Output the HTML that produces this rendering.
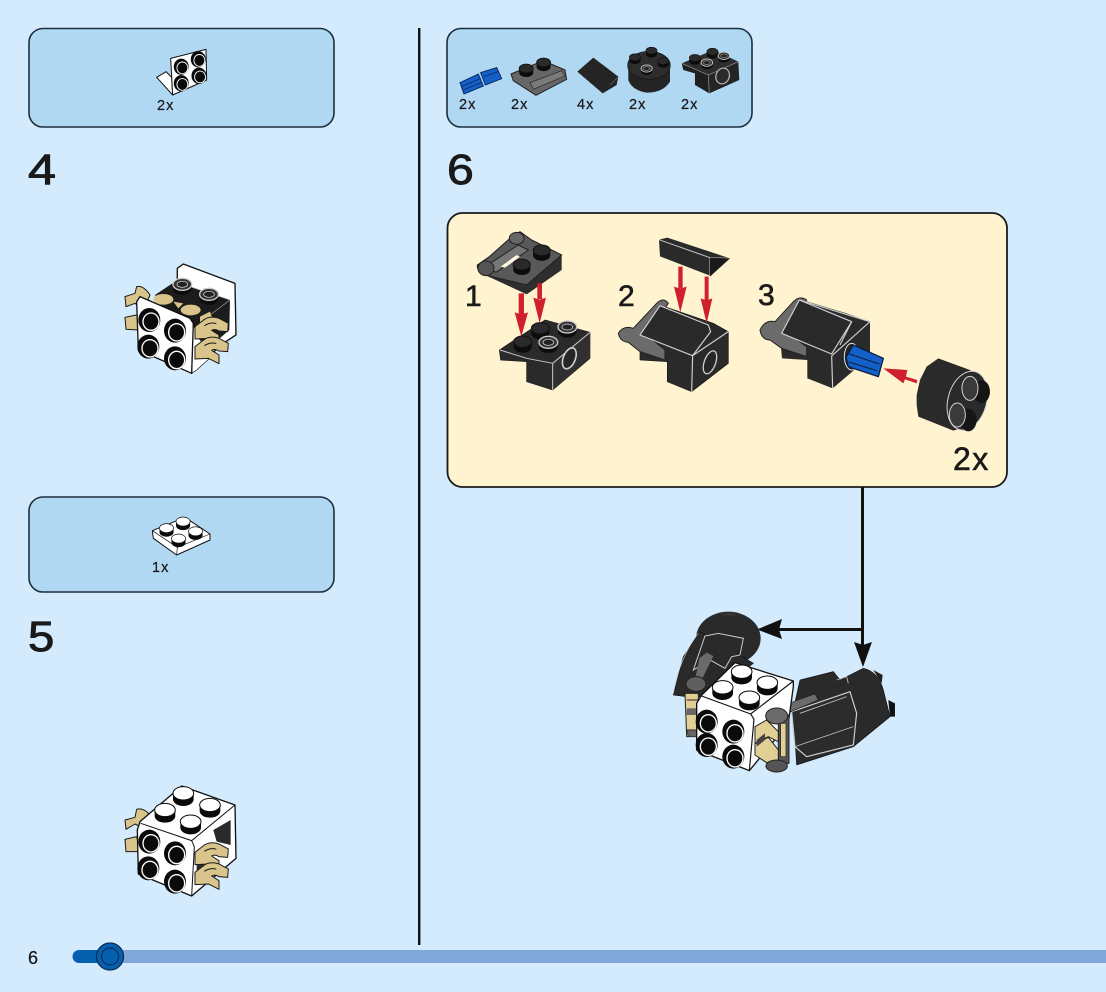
<!DOCTYPE html>
<html><head><meta charset="utf-8"><style>
html,body{margin:0;padding:0;background:#d3ebfd}
svg{display:block}
text{font-family:"Liberation Sans",sans-serif;fill:#1a1a1a;stroke:#1a1a1a;stroke-width:.25}
.big{stroke-width:.9}
.mid{stroke-width:.6}
</style></head><body>
<svg width="1106" height="992" viewBox="0 0 1106 992" xmlns="http://www.w3.org/2000/svg">
<defs>
<g id="bs"><ellipse cx="0" cy="0" rx="33" ry="36" fill="#0a0a0a"/><ellipse cx="5" cy="5" rx="24" ry="26" fill="#0a0a0a" stroke="#fff" stroke-width="4"/></g>
<g id="ts"><path d="M-31 0 V18 A31 20 0 0 0 31 18 V0Z" fill="#0a0a0a"/><ellipse cx="0" cy="0" rx="31" ry="20" fill="#fff" stroke="#0a0a0a" stroke-width="3"/></g>
<g id="ds"><path d="M-27 0 V16 A27 17 0 0 0 27 16 V0Z" fill="#0c0c0c"/><ellipse cx="0" cy="0" rx="27" ry="17" fill="#2a2a2a" stroke="#111" stroke-width="3"/></g>
<g id="rs"><path d="M-28 0 V14 A28 18 0 0 0 28 14 V0Z" fill="#0c0c0c"/><ellipse cx="0" cy="0" rx="28" ry="18" fill="#333" stroke="#ccc" stroke-width="4"/><ellipse cx="0" cy="0" rx="16" ry="9" fill="#222" stroke="#ddd" stroke-width="2"/></g>
<g id="clip"><path d="M0 25 L22 8 Q42 -10 72 0 L100 15 L98 40 L72 38 Q60 30 50 36 L72 50 L72 76 L40 60 L0 62 Z" fill="#d9c48c" stroke="#1a1a1a" stroke-width="3" stroke-linejoin="round"/><path d="M28 22 Q48 10 64 16" fill="none" stroke="#1a1a1a" stroke-width="3"/></g>
</defs>

<rect width="1106" height="992" fill="#d3ebfd"/>

<!-- panels -->
<rect x="29" y="28.500" width="305" height="98.500" rx="14" fill="#b1d8f3" stroke="#1c2f3e" stroke-width="1.600"/>
<rect x="29" y="497" width="305" height="95" rx="14" fill="#b1d8f3" stroke="#1c2f3e" stroke-width="1.600"/>
<rect x="447" y="28.500" width="305" height="98.500" rx="14" fill="#b1d8f3" stroke="#1c2f3e" stroke-width="1.600"/>
<rect x="447.500" y="213" width="559.500" height="274" rx="15" fill="#fff4cf" stroke="#1a1a1a" stroke-width="1.800"/>
<rect x="418" y="28" width="2.400" height="917" fill="#111"/>

<!-- connectors -->
<path d="M862.500 487 V645 M862.500 629.500 H778" stroke="#111" stroke-width="3" fill="none"/>
<path d="M854 642 L863 645 L872 642 L863 667 Z" fill="#111"/>
<path d="M782 619 L779 629.500 L782 639 L757 629.500 Z" fill="#111"/>

<!-- text -->
<text class="big" transform="translate(28,184) scale(1.17,1)" font-size="43">4</text>
<text class="big" transform="translate(28,651) scale(1.1,1)" font-size="43">5</text>
<text class="big" transform="translate(447,184) scale(1.12,1)" font-size="43">6</text>
<text x="157" y="110" font-size="14.500" letter-spacing="1">2x</text>
<text x="152" y="572" font-size="14.500" letter-spacing="1">1x</text>
<text x="459" y="109" font-size="14.500" letter-spacing="1">2x</text>
<text x="511" y="109" font-size="14.500" letter-spacing="1">2x</text>
<text x="577" y="109" font-size="14.500" letter-spacing="1">4x</text>
<text x="629" y="109" font-size="14.500" letter-spacing="1">2x</text>
<text x="681" y="109" font-size="14.500" letter-spacing="1">2x</text>
<text class="mid" x="465" y="306" font-size="30">1</text>
<text class="mid" x="618" y="306" font-size="30">2</text>
<text class="mid" x="758" y="305" font-size="30">3</text>
<text class="mid" x="953" y="470" font-size="32" letter-spacing="1.500">2x</text>
<text x="28" y="964" font-size="18">6</text>

<!-- progress bar -->
<rect x="100" y="950" width="1006" height="13" fill="#82a8d9"/>
<path d="M79 950 H112 V963 H79 A6.500 6.500 0 0 1 79 950Z" fill="#0560b0"/>
<circle cx="110" cy="956.500" r="13.500" fill="#0560b0" stroke="#0b2f56" stroke-width="1.300"/>
<circle cx="110" cy="956.500" r="8.500" fill="#0560b0" stroke="#0b2f56" stroke-width="1.200"/>

<!-- callout part: bracket 2x -->
<g transform="translate(140,40) scale(.3333)">
<path d="M50 112 L78 95 L95 112 L98 165 Z" fill="#fff" stroke="#111" stroke-width="3" stroke-linejoin="round"/>
<path d="M92 55 L198 28 L200 120 L98 165 Z" fill="#fff" stroke="#111" stroke-width="3" stroke-linejoin="round"/>
<g transform="scale(.68)"><use href="#bs" x="182" y="118"/><use href="#bs" x="257" y="85"/><use href="#bs" x="182" y="191"/><use href="#bs" x="260" y="158"/></g>
</g>

<!-- callout part: plate 1x -->
<g transform="translate(140,510) scale(.3333)">
<path d="M37 62 L135 22 L210 72 L210 90 L110 135 L40 85 Z" fill="#fff" stroke="#111" stroke-width="3" stroke-linejoin="round"/>
<path d="M37 62 L112 112 L210 72 M112 112 L110 135" fill="none" stroke="#111" stroke-width="2"/>
<g transform="scale(.68)"><use href="#ts" x="117" y="80"/><use href="#ts" x="190" y="51"/><use href="#ts" x="245" y="94"/><use href="#ts" x="170" y="126"/></g>
</g>

<!-- callout parts row -->
<g transform="translate(450,30) scale(.3333)">
<path d="M30 158 L85 132 L100 168 L42 192 Z" fill="#1560c8" stroke="#0a2a60" stroke-width="3"/>
<path d="M92 128 L140 113 L155 146 L106 165 Z" fill="#1560c8" stroke="#0a2a60" stroke-width="3"/>
<path d="M35 170 L92 145 M40 180 L96 157 M102 140 L145 125" stroke="#0a2a60" stroke-width="2.500"/>
<path d="M183 132 L280 92 L345 120 L350 148 L258 196 L190 152 Z" fill="#666" stroke="#222" stroke-width="3" stroke-linejoin="round"/>
<path d="M240 158 L335 122 L345 138 L250 178 Z" fill="#7a7a7a" stroke="#222" stroke-width="2"/>
<g transform="scale(.78)"><use href="#ds" x="293" y="148"/><use href="#ds" x="360" y="125"/></g>
<path d="M382 125 L430 83 L505 140 L500 165 L458 190 Z" fill="#242424"/>
<path d="M480 165 L505 140" stroke="#666" stroke-width="2" fill="none"/>
<path d="M535 108 H660 V155 Q640 188 590 188 Q545 180 535 150 Z" fill="#242424"/>
<ellipse cx="597" cy="106" rx="64" ry="42" fill="#2d2d2d" stroke="#111" stroke-width="2"/>
<g transform="scale(.62)"><use href="#ds" x="975" y="100"/><use href="#ds" x="895" y="132"/><use href="#ds" x="1032" y="150"/></g>
<use href="#rs" x="590" y="116" transform="translate(236,46) scale(.6)"/>
<path d="M695 100 L790 60 L865 95 L775 135 Z" fill="#2d2d2d"/>
<path d="M775 135 L865 95 L868 150 L778 190 Z" fill="#242424"/>
<path d="M695 100 L775 135 L778 190 L735 165 L735 130 L700 120 Z" fill="#1f1f1f"/>
<path d="M695 100 L775 135 L865 95 M775 135 L778 190" stroke="#999" stroke-width="2" fill="none"/>
<ellipse cx="818" cy="138" rx="20" ry="24" transform="rotate(20 818 138)" fill="#2a2a2a" stroke="#aaa" stroke-width="4"/>
<g transform="scale(.62)"><use href="#ds" x="1185" y="135"/><use href="#ds" x="1270" y="105"/></g>
<g transform="scale(.62)"><use href="#rs" x="1243" y="158"/><use href="#rs" x="1325" y="125"/></g>
</g>

<!-- sub step 1 and 2 -->
<g transform="translate(460,225) scale(.3333)">
<path d="M75 150 L195 180 L305 90 L305 135 L200 208 Z" fill="#2e2e2e"/>
<path d="M52 120 L88 95 L150 40 L180 20 L215 45 L305 90 L200 180 L75 150 Q50 140 52 120 Z" fill="#595959" stroke="#1d1d1d" stroke-width="3" stroke-linejoin="round"/>
<path d="M75 125 L175 60 L205 75 L108 142 Z" fill="#777" stroke="#222" stroke-width="3"/>
<path d="M122 125 L170 90 L180 95 L135 128Z" fill="#fff8dc"/>
<ellipse cx="78" cy="130" rx="24" ry="22" fill="#555" stroke="#222" stroke-width="3"/>
<ellipse cx="170" cy="40" rx="22" ry="18" fill="#666" stroke="#222" stroke-width="3"/>
<g transform="scale(.95)"><use href="#ds" x="258" y="80"/><use href="#ds" x="195" y="125"/></g>

<path d="M118 375 L255 285 L390 322 L390 400 L278 495 L200 470 L200 410 L122 405 Z" fill="#2a2a2a" stroke="#1a1a1a" stroke-width="2" stroke-linejoin="round"/>
<path d="M278 415 L390 322 L390 400 L278 495 Z" fill="#303030"/>
<path d="M278 415 L390 322 M278 415 L278 495 M120 375 L200 400 L278 415" fill="none" stroke="#c8c8c8" stroke-width="3"/>
<ellipse cx="328" cy="400" rx="18" ry="33" transform="rotate(22 328 400)" fill="#262626" stroke="#ccc" stroke-width="5"/>
<g transform="translate(-2,0)"><use href="#ds" x="190" y="350"/><use href="#ds" x="243" y="310"/></g>
<use href="#rs" x="322" y="306"/><use href="#rs" x="265" y="352"/>

<path d="M176 205 H192 V268 H176Z M232 175 H246 V222 H232Z" fill="#d0202e"/>
<path d="M164 262 L184 268 L204 262 L184 335 Z M220 218 L239 224 L258 218 L239 295 Z" fill="#d0202e"/>

<!-- step 2 -->
<path d="M540 340 L600 240 L760 295 L805 320 L805 415 L695 500 L622 470 L622 410 L540 405 Z" fill="#2a2a2a" stroke="#1a1a1a" stroke-width="2"/>
<path d="M475 325 Q490 300 520 310 L590 235 Q610 215 625 235 L560 330 L615 375 L615 405 L540 380 L505 352 Q480 350 475 325 Z" fill="#6b6b6b" stroke="#222" stroke-width="3" stroke-linejoin="round"/>
<path d="M600 242 L745 300 L752 320 L698 392 L540 330 Z" fill="#2a2a2a" stroke="#d0d0d0" stroke-width="3.500" stroke-linejoin="round"/>
<path d="M698 392 L805 320 M698 392 L695 500" fill="none" stroke="#d0d0d0" stroke-width="3.500"/>
<ellipse cx="750" cy="412" rx="17" ry="36" transform="rotate(20 750 412)" fill="#262626" stroke="#ccc" stroke-width="4"/>

<path d="M597 44 L622 38 L810 100 L750 152 L600 94 Z" fill="#2a2a2a"/>
<path d="M597 44 L750 98 L810 100 M750 98 L750 150" fill="none" stroke="#c8c8c8" stroke-width="3"/>
<path d="M750 98 L810 100 L750 155 Z" fill="#1a1a1a"/>
<path d="M655 125 H668 V190 H655Z M734 155 H746 V230 H734Z" fill="#d0202e"/>
<path d="M642 185 L661 191 L680 185 L661 262 Z M722 220 L740 226 L757 220 L740 295 Z" fill="#d0202e"/>
</g>

<!-- sub step 3 -->
<g transform="translate(750,280) scale(.3333)">
<path d="M90 170 L140 55 L290 100 L360 125 L360 230 L248 325 L172 295 L172 240 L96 235 Z" fill="#2a2a2a"/>
<path d="M30 150 Q45 118 75 125 L130 65 Q150 45 170 60 L115 160 L170 200 L170 230 L95 205 L60 180 Q35 180 30 150 Z" fill="#6b6b6b" stroke="#222" stroke-width="3" stroke-linejoin="round"/>
<path d="M148 60 L288 118 L305 125 L245 222 L95 160 Z" fill="#2a2a2a" stroke="#d0d0d0" stroke-width="3.500" stroke-linejoin="round"/>
<path d="M148 60 L360 125 L245 228 M245 228 L248 325 M305 125 L270 195" fill="none" stroke="#d0d0d0" stroke-width="3.500"/>
<ellipse cx="305" cy="230" rx="22" ry="40" fill="#262626" stroke="#ddd" stroke-width="3"/>
<path d="M288 232 L310 195 L400 235 L385 290 L295 260 Z" fill="#1560c8" stroke="#0a1f40" stroke-width="4" stroke-linejoin="round"/>
<path d="M298 222 L388 252 M296 246 L380 272" stroke="#0a1f40" stroke-width="3"/>
<path d="M400 265 L472 270 L468 290 L502 300 L500 310 L465 298 L460 310 Z" fill="#d0202e"/>
<path d="M500 345 L510 300 L530 260 L565 235 L660 270 L705 340 L680 430 L610 452 L505 410 L500 375 Z" fill="#2a2a2a"/>
<ellipse cx="652" cy="362" rx="58" ry="90" transform="rotate(15 652 362)" fill="#2a2a2a" stroke="#d0d0d0" stroke-width="3"/>
<ellipse cx="695" cy="335" rx="25" ry="34" fill="#151515"/>
<ellipse cx="655" cy="420" rx="25" ry="34" fill="#151515"/>
<ellipse cx="660" cy="325" rx="24" ry="36" fill="#3a3a3a" stroke="#d0d0d0" stroke-width="3"/>
<ellipse cx="622" cy="405" rx="24" ry="36" fill="#3a3a3a" stroke="#d0d0d0" stroke-width="3"/>
</g>

<!-- assembly 4 -->
<g transform="translate(100,240) scale(.3333)">
<path d="M232 85 L250 72 L405 130 L408 285 L370 310 L290 380 L230 300 Z" fill="#fff" stroke="#111" stroke-width="4" stroke-linejoin="round"/>
<path d="M165 165 L225 125 L390 180 L388 270 L330 320 L200 230 Z" fill="#1c1c1c"/>
<path d="M225 125 L390 180 L330 225" fill="none" stroke="#aaa" stroke-width="2"/>
<use href="#rs" x="247" y="133"/><use href="#rs" x="327" y="163"/>
<path d="M75 170 L105 160 L110 140 Q130 135 150 165 L130 210 L105 190 L78 200 Z" fill="#d9c48c" stroke="#1a1a1a" stroke-width="3" stroke-linejoin="round"/>
<path d="M75 232 L110 225 L120 270 L78 268Z" fill="#d9c48c" stroke="#1a1a1a" stroke-width="3"/>
<ellipse cx="190" cy="178" rx="30" ry="16" fill="#d9c48c"/><ellipse cx="272" cy="210" rx="30" ry="16" fill="#d9c48c"/>
<path d="M220 185 L250 190 L235 205Z" fill="#d9c48c"/>
<path d="M300 230 L330 215 L340 245 L300 250Z" fill="#d9c48c"/>
<path d="M275 400 L290 390 L340 345 L300 300 L280 255Z" fill="#fff" stroke="#111" stroke-width="2"/>
<path d="M110 185 L120 170 L270 235 L280 250 L275 400 L115 330 Z" fill="#fff" stroke="#111" stroke-width="4" stroke-linejoin="round"/>
<use href="#clip" x="285" y="235"/><use href="#clip" x="285" y="295"/>
<use href="#bs" x="148" y="240"/><use href="#bs" x="225" y="272"/><use href="#bs" x="145" y="320"/><use href="#bs" x="225" y="355"/>
</g>

<!-- assembly 5 -->
<g transform="translate(100,770) scale(.3333)">
<path d="M75 150 L105 142 L110 118 Q130 112 150 135 L130 175 L105 162 L78 178 Z" fill="#d9c48c" stroke="#1a1a1a" stroke-width="3" stroke-linejoin="round"/>
<path d="M75 208 L110 200 L120 245 L78 245Z" fill="#d9c48c" stroke="#1a1a1a" stroke-width="3"/>
<path d="M120 155 L245 48 L405 105 L408 265 L275 378 L115 312 L112 180 Z" fill="#fff" stroke="#111" stroke-width="4" stroke-linejoin="round"/>
<path d="M122 160 L275 212 L405 105 M275 212 L283 230 L275 378" fill="none" stroke="#111" stroke-width="3"/>
<path d="M340 180 L392 150 L392 225 L350 215Z" fill="#2a2a2a"/>
<path d="M290 270 L320 240 L320 320 L290 345Z" fill="#2a2a2a"/>
<use href="#ts" x="250" y="70"/><use href="#ts" x="195" y="120"/><use href="#ts" x="330" y="105"/><use href="#ts" x="272" y="155"/>
<use href="#clip" x="285" y="222"/><use href="#clip" x="285" y="282"/>
<use href="#bs" x="148" y="215"/><use href="#bs" x="225" y="250"/><use href="#bs" x="145" y="295"/><use href="#bs" x="225" y="335"/>
</g>

<!-- assembly 6 -->
<g transform="translate(660,600) scale(.3333)">
<ellipse cx="205" cy="115" rx="97" ry="80" fill="#2a2a2a"/>
<path d="M40 285 L70 170 L120 95 L280 190 L150 290 L80 290 Z" fill="#2a2a2a" stroke="#111" stroke-width="2"/>
<path d="M185 38 L225 38 L225 48 L185 48Z" fill="#333"/>
<path d="M115 100 Q60 170 40 280" fill="none" stroke="#ccc" stroke-width="2"/>
<path d="M135 108 L175 100 L250 115 L240 165 L215 170 L195 205 L150 180 L100 210 Z" fill="#2a2a2a" stroke="#ccc" stroke-width="3"/>
<path d="M118 175 L140 158 L160 168 L120 250 L105 240 Z" fill="#6b6b6b"/>
<ellipse cx="108" cy="252" rx="30" ry="22" fill="#5f5f5f" stroke="#222" stroke-width="3"/>
<path d="M75 280 H115 V410 H80 Z" fill="#e2cf96" stroke="#222" stroke-width="3"/>
<path d="M80 300 H115 M80 340 H115 M80 390 H110" stroke="#222" stroke-width="3"/>
<path d="M80 325 H115 V345 H80Z" fill="#666"/>
<path d="M80 390 H112 V410 H85Z" fill="#666" stroke="#222" stroke-width="2"/>

<path d="M400 330 L420 240 L520 215 L540 240 L610 205 Q655 215 670 270 L690 350 L580 440 L410 495 Z" fill="#2a2a2a" stroke="#111" stroke-width="2"/>
<path d="M685 300 L705 310 L705 350 L690 350 Z" fill="#111"/>
<path d="M640 210 L668 225 L665 250Z" fill="#222"/>
<path d="M395 335 L570 275 L590 340 L580 435 L440 470 L405 440 Z" fill="#2c2c2c" stroke="#d0d0d0" stroke-width="3.500" stroke-linejoin="round"/>
<path d="M420 340 L560 290 M405 440 L580 380 M530 240 L560 230 L565 250" fill="none" stroke="#c0c0c0" stroke-width="2.500"/>
<path d="M330 330 L465 282 L475 300 L370 345 Z" fill="#6b6b6b" stroke="#222" stroke-width="2"/>

<path d="M125 285 L225 188 L400 243 L400 260 L385 370 L268 512 L110 450 L110 310 Z" fill="#fff" stroke="#111" stroke-width="4" stroke-linejoin="round"/>
<path d="M125 288 L272 342 L400 243 M272 342 L282 358 L268 512" fill="none" stroke="#111" stroke-width="3.500"/>
<use href="#ts" x="245" y="215"/><use href="#ts" x="188" y="262"/><use href="#ts" x="322" y="248"/><use href="#ts" x="268" y="293"/>
<use href="#bs" x="140" y="365"/><use href="#bs" x="220" y="395"/><use href="#bs" x="140" y="435"/><use href="#bs" x="220" y="470"/>
<path d="M355 345 H387 V490 H355Z" fill="#555" stroke="#222" stroke-width="3"/>
<path d="M362 370 H378 V470 H362Z" fill="#e2cf96" stroke="#222" stroke-width="2"/>
<path d="M285 380 L320 360 L355 395 L355 425 L325 410 L285 430 Z" fill="#e2cf96" stroke="#222" stroke-width="3" stroke-linejoin="round"/>
<path d="M285 432 L325 412 L355 450 L355 482 L320 488 L285 465 Z" fill="#e2cf96" stroke="#222" stroke-width="3" stroke-linejoin="round"/>
<path d="M290 420 L315 400 L315 420 L290 440Z" fill="#444"/>
<ellipse cx="350" cy="348" rx="33" ry="24" fill="#6b6b6b" stroke="#222" stroke-width="3"/>
<ellipse cx="350" cy="498" rx="32" ry="18" fill="#555" stroke="#222" stroke-width="3"/>
</g>
</svg>
</body></html>
